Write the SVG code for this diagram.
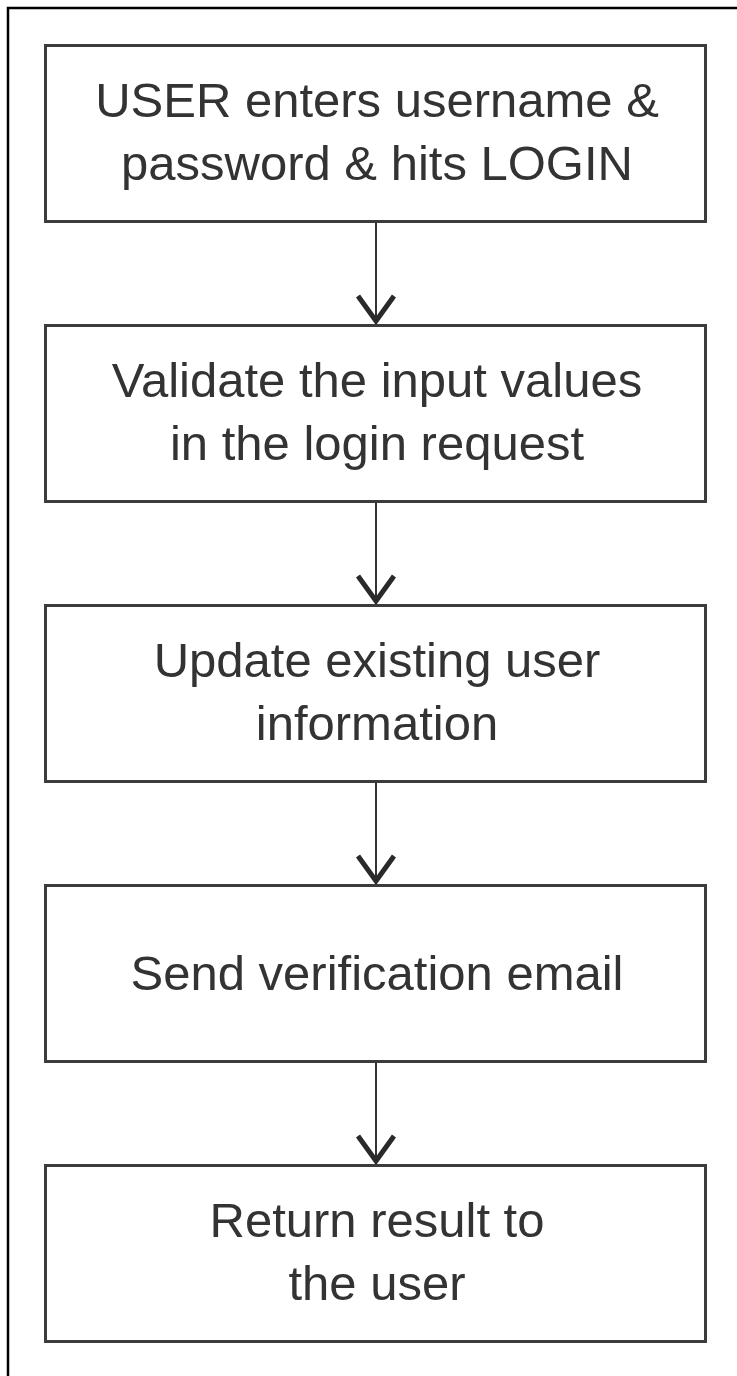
<svg xmlns="http://www.w3.org/2000/svg" width="737" height="1376" viewBox="0 0 737 1376">
<style>
.frame{fill:none;stroke:#000;stroke-width:2.5}
.box{fill:#fff;stroke:#3c3c3c;stroke-width:3}
.lbl{font-family:"Liberation Sans",Arial,sans-serif;font-size:49px;fill:#333;text-anchor:middle}
.conn{stroke:#333;stroke-width:2;fill:none}
.head{stroke:#2a2a2a;stroke-width:5;fill:none;stroke-linecap:butt;stroke-linejoin:miter}
</style>
<rect width="737" height="1376" fill="#fff"/>
<path class="frame" d="M8 1376 V8 H737"/>
<g id="connectors">
<line class="conn" x1="376" y1="221.5" x2="376" y2="324"/>
<polyline class="head" points="358,296 376,321 394,296"/>
<line class="conn" x1="376" y1="501.5" x2="376" y2="604"/>
<polyline class="head" points="358,576 376,601 394,576"/>
<line class="conn" x1="376" y1="781.5" x2="376" y2="884"/>
<polyline class="head" points="358,856 376,881 394,856"/>
<line class="conn" x1="376" y1="1061.5" x2="376" y2="1164"/>
<polyline class="head" points="358,1136 376,1161 394,1136"/>
</g>
<g id="node1">
<rect class="box" x="45.5" y="45.5" width="660" height="176"/>
<text class="lbl" x="377" y="117">USER enters username &amp;</text>
<text class="lbl" x="377" y="180">password &amp; hits LOGIN</text>
</g>
<g id="node2">
<rect class="box" x="45.5" y="325.5" width="660" height="176"/>
<text class="lbl" x="377" y="397">Validate the input values</text>
<text class="lbl" x="377" y="460">in the login request</text>
</g>
<g id="node3">
<rect class="box" x="45.5" y="605.5" width="660" height="176"/>
<text class="lbl" x="377" y="677">Update existing user</text>
<text class="lbl" x="377" y="740">information</text>
</g>
<g id="node4">
<rect class="box" x="45.5" y="885.5" width="660" height="176"/>
<text class="lbl" x="377" y="990">Send verification email</text>
</g>
<g id="node5">
<rect class="box" x="45.5" y="1165.5" width="660" height="176"/>
<text class="lbl" x="377" y="1237">Return result to</text>
<text class="lbl" x="377" y="1300">the user</text>
</g>
</svg>
